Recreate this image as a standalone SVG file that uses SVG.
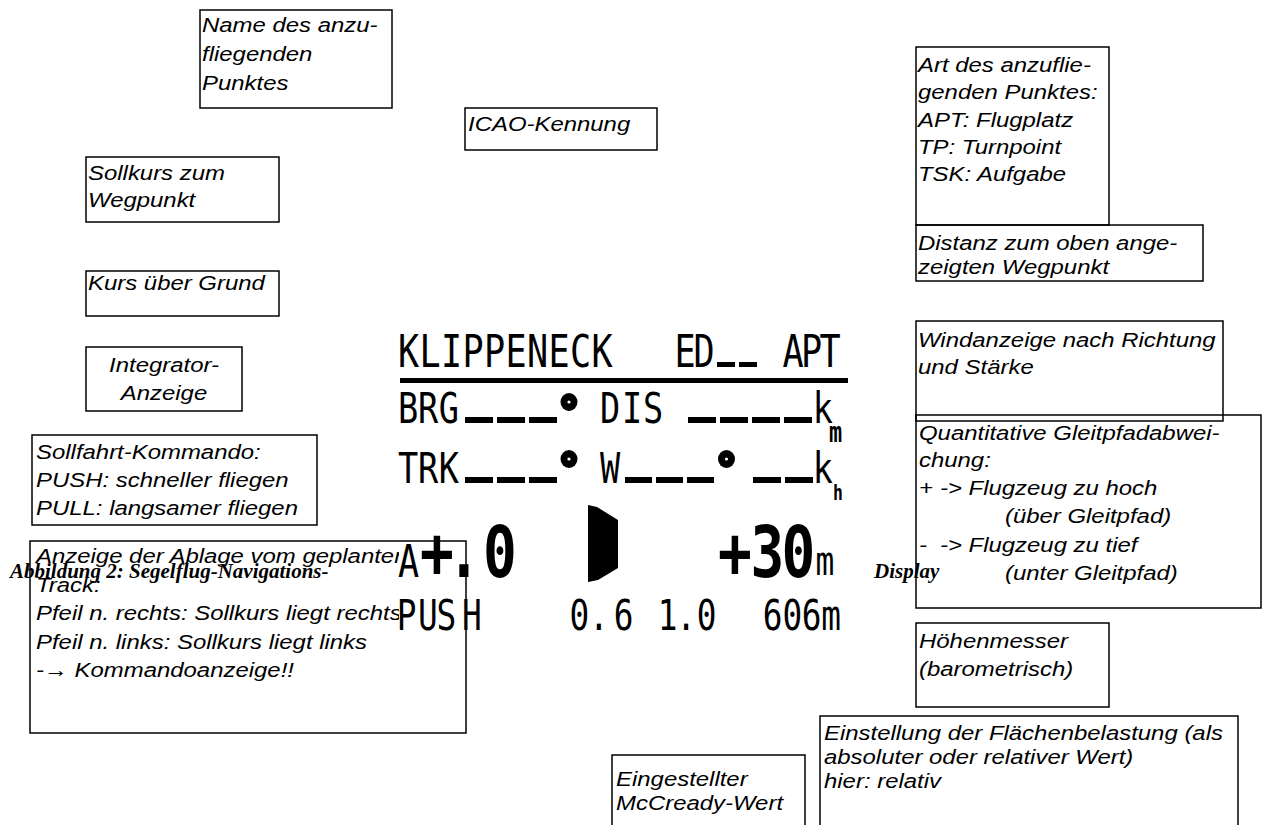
<svg xmlns="http://www.w3.org/2000/svg" width="1262" height="825" viewBox="0 0 1262 825">
<style>
.box{fill:none;stroke:#000;stroke-width:1.5}
.t{font-family:"Liberation Sans",Arial,sans-serif;font-style:italic;font-size:21px;fill:#000}
.lcd{font-family:"DejaVu Sans Mono","Liberation Mono",monospace;fill:#000;text-anchor:middle}
.big{font-size:72px;font-weight:bold}
.cap{font-family:"Liberation Serif","Times New Roman",serif;font-weight:bold;font-style:italic;font-size:21px;fill:#000}
.bar{fill:#000}
</style>
<defs>
<clipPath id="clipLeft"><rect x="0" y="0" width="399" height="825"/></clipPath>
</defs>
<rect width="1262" height="825" fill="#fff"/>

<g id="display">
<rect class="bar" x="400" y="378" width="448" height="5"/>
<rect class="bar" x="717" y="362" width="18" height="5"/>
<rect class="bar" x="739" y="362" width="18" height="5"/>
<rect class="bar" x="465" y="417" width="28" height="6"/>
<rect class="bar" x="497" y="417" width="28" height="6"/>
<rect class="bar" x="529" y="417" width="28" height="6"/>
<rect class="bar" x="688" y="417" width="28" height="6"/>
<rect class="bar" x="720" y="417" width="28" height="6"/>
<rect class="bar" x="752" y="417" width="28" height="6"/>
<rect class="bar" x="784" y="417" width="28" height="6"/>
<rect class="bar" x="465" y="477" width="28" height="6"/>
<rect class="bar" x="497" y="477" width="28" height="6"/>
<rect class="bar" x="529" y="477" width="28" height="6"/>
<rect class="bar" x="625" y="477" width="27" height="6"/>
<rect class="bar" x="656" y="477" width="27" height="6"/>
<rect class="bar" x="687" y="477" width="27" height="6"/>
<rect class="bar" x="753" y="477" width="28" height="6"/>
<rect class="bar" x="785" y="477" width="28" height="6"/>
<ellipse cx="569" cy="402" rx="8.5" ry="9" fill="#000"/><circle cx="569" cy="402" r="1.6" fill="#fff"/>
<ellipse cx="569" cy="459" rx="8.5" ry="9" fill="#000"/><circle cx="569" cy="459" r="1.6" fill="#fff"/>
<ellipse cx="726.5" cy="459" rx="8.5" ry="9" fill="#000"/><circle cx="726.5" cy="459" r="1.6" fill="#fff"/>
<polygon points="588,505 597,507 618,520 618,568 598,580 588,582" fill="#000"/>
<g class="lcd" transform="scale(0.78,1)">
<text font-size="45" x="523.7 551.3 578.8 606.4 634.0 661.5 689.1 716.7 744.2 771.8" y="367">KLIPPENECK</text>
<text font-size="45" x="878.2 902.6" y="367">ED</text>
<text font-size="45" x="1016.7 1040.4 1064.1" y="367">APT</text>
<text font-size="43" x="523.1 548.7 575.6" y="423">BRG</text>
<text font-size="43" x="782.1 810.3 837.2" y="423">DIS</text>
<text font-size="43" x="1055.1" y="423">k</text>
<text font-size="28" font-weight="bold" x="1071.2" y="442">m</text>
<text font-size="43" x="523.1 548.7 575.6" y="483">TRK</text>
<text font-size="43" x="782.1" y="483">W</text>
<text font-size="43" x="1055.1" y="483">k</text>
<text font-size="21" font-weight="bold" x="1074.4" y="500">h</text>
<text font-size="45" x="523.7" y="577">A</text>
<text class="big" x="560.3 594.9 641.0" y="577">+.0</text>
<text class="big" x="942.3 984.0 1023.7" y="577">+30</text>
<text font-size="40" x="1057.7" y="575">m</text>
<text font-size="42" x="521.2 548.7 572.4 605.1" y="630">PUSH</text>
<text font-size="42" x="742.9 767.9 799.4" y="630">0.6</text>
<text font-size="42" x="855.8 879.5 905.8" y="630">1.0</text>
<text font-size="42" x="990.4 1016.0 1040.4 1065.4" y="630">606m</text>
</g>
</g>

<g id="connectors"></g>

<g id="n-name">
<rect class="box" x="200" y="10" width="192" height="98"/>
<text class="t" transform="translate(202,0) scale(1.14,1)"><tspan x="0" y="32">Name des anzu-</tspan><tspan x="0" y="61">fliegenden</tspan><tspan x="0" y="90">Punktes</tspan></text>
</g>
<g id="n-icao">
<rect class="box" x="465" y="108" width="192" height="42"/>
<text class="t" transform="translate(468,0) scale(1.14,1)"><tspan x="0" y="131">ICAO-Kennung</tspan></text>
</g>
<g id="n-sollkurs">
<rect class="box" x="86" y="157" width="193" height="65"/>
<text class="t" transform="translate(88,0) scale(1.14,1)"><tspan x="0" y="180">Sollkurs zum</tspan><tspan x="0" y="207">Wegpunkt</tspan></text>
</g>
<g id="n-kurs">
<rect class="box" x="86" y="271" width="193" height="45"/>
<text class="t" transform="translate(88,0) scale(1.14,1)"><tspan x="0" y="290">Kurs über Grund</tspan></text>
</g>
<g id="n-integrator">
<rect class="box" x="86" y="347" width="156" height="64"/>
<text class="t" text-anchor="middle" transform="translate(164,0) scale(1.14,1)"><tspan x="0" y="372">Integrator-</tspan><tspan x="0" y="400">Anzeige</tspan></text>
</g>
<g id="n-sollfahrt">
<rect class="box" x="32" y="435" width="285" height="90"/>
<text class="t" transform="translate(36,0) scale(1.14,1)"><tspan x="0" y="459">Sollfahrt-Kommando:</tspan><tspan x="0" y="487">PUSH: schneller fliegen</tspan><tspan x="0" y="515">PULL: langsamer fliegen</tspan></text>
</g>
<g id="n-ablage">
<rect class="box" x="30" y="541" width="436" height="192"/>
<g clip-path="url(#clipLeft)">
<text class="t" transform="translate(36,0) scale(1.14,1)"><tspan x="0" y="563">Anzeige der Ablage vom geplanten</tspan><tspan x="0" y="592">Track:</tspan><tspan x="0" y="620">Pfeil n. rechts: Sollkurs liegt rechts</tspan><tspan x="0" y="649">Pfeil n. links: Sollkurs liegt links</tspan><tspan x="0" y="677">-→ Kommandoanzeige!!</tspan></text>
</g>
</g>
<g id="n-art">
<rect class="box" x="916" y="47" width="193" height="178"/>
<text class="t" transform="translate(918,0) scale(1.14,1)"><tspan x="0" y="72">Art des anzuflie-</tspan><tspan x="0" y="99.5">genden Punktes:</tspan><tspan x="0" y="127">APT: Flugplatz</tspan><tspan x="0" y="154">TP: Turnpoint</tspan><tspan x="0" y="181">TSK: Aufgabe</tspan></text>
</g>
<g id="n-distanz">
<rect class="box" x="916" y="225" width="287" height="56"/>
<text class="t" transform="translate(918,0) scale(1.14,1)"><tspan x="0" y="250">Distanz zum oben ange-</tspan><tspan x="0" y="274">zeigten Wegpunkt</tspan></text>
</g>
<g id="n-wind">
<rect class="box" x="916" y="321" width="307" height="100"/>
<text class="t" transform="translate(918,0) scale(1.14,1)"><tspan x="0" y="347">Windanzeige nach Richtung</tspan><tspan x="0" y="374">und Stärke</tspan></text>
</g>
<g id="n-gleitpfad">
<rect class="box" x="916" y="415" width="345" height="193"/>
<text class="t" transform="translate(919,0) scale(1.14,1)"><tspan x="0" y="440">Quantitative Gleitpfadabwei-</tspan><tspan x="0" y="467">chung:</tspan><tspan x="0" y="495">+</tspan><tspan x="18.4" y="495">-&gt; Flugzeug zu hoch</tspan><tspan x="75.4" y="523">(über Gleitpfad)</tspan><tspan x="0" y="552">-</tspan><tspan x="18.4" y="552">-&gt; Flugzeug zu tief</tspan><tspan x="75.4" y="580">(unter Gleitpfad)</tspan></text>
</g>
<g id="n-hoehe">
<rect class="box" x="916" y="623" width="193" height="84"/>
<text class="t" transform="translate(919,0) scale(1.14,1)"><tspan x="0" y="648">Höhenmesser</tspan><tspan x="0" y="676">(barometrisch)</tspan></text>
</g>
<g id="n-flaeche">
<rect class="box" x="820" y="716" width="418" height="130"/>
<text class="t" transform="translate(824,0) scale(1.14,1)"><tspan x="0" y="740">Einstellung der Flächenbelastung (als</tspan><tspan x="0" y="764">absoluter oder relativer Wert)</tspan><tspan x="0" y="788">hier: relativ</tspan></text>
</g>
<g id="n-mccready">
<rect class="box" x="612" y="755" width="193" height="100"/>
<text class="t" transform="translate(616,0) scale(1.14,1)"><tspan x="0" y="786">Eingestellter</tspan><tspan x="0" y="810">McCready-Wert</tspan></text>
</g>

<g id="caption">
<text class="cap" x="10" y="578">Abbildung 2: Segelflug-Navigations-</text>
<text class="cap" x="874" y="578">Display</text>
</g>
</svg>
